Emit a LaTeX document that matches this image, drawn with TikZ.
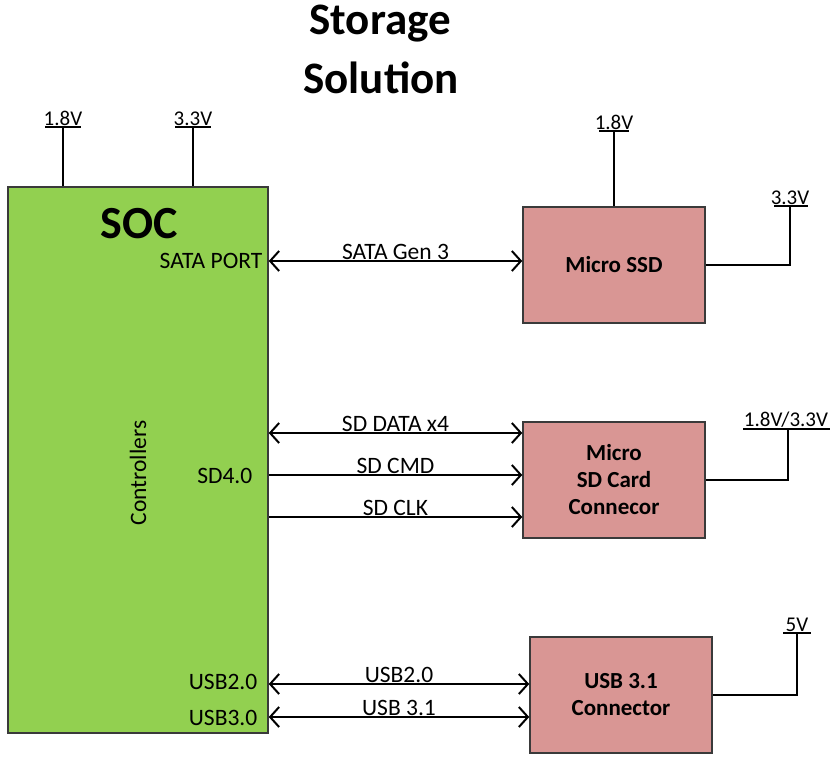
\documentclass[tikz,border=0pt]{standalone}
\usepackage{fontspec}
\setmainfont{Carlito}
\usetikzlibrary{arrows.meta}
\definecolor{socgreen}{HTML}{92D050}
\definecolor{blkpink}{HTML}{D99694}
\definecolor{edge}{HTML}{3A3A3A}
\begin{document}
\begin{tikzpicture}[x=1pt,y=-1pt,
  wire/.style={line width=2pt, draw=black},
  tip/.tip={Straight Barb[length=9pt,width=20pt,line width=2pt]},
  bus/.style={wire, tip-tip},
  sig/.style={wire, -tip},
  lbl/.style={font=\fontsize{23.5}{26}\selectfont, inner sep=1.5pt},
  slbl/.style={lbl, midway, above, inner sep=0.5pt},
  pwr/.style={font=\fontsize{21}{24}\selectfont, inner sep=1.5pt, anchor=south},
  blk/.style={draw=edge, line width=1.5pt, fill=blkpink, align=center,
    font=\bfseries\fontsize{23}{27}\selectfont,
    minimum width=182pt, minimum height=116pt},
  socbox/.style={draw=edge, line width=1.5pt, fill=socgreen,
    minimum width=260pt, minimum height=546pt},
  ttl/.style={font=\bfseries\fontsize{45}{54}\selectfont, anchor=base}
]
\useasboundingbox (0,0) rectangle (839,761);

% title
\node[ttl] (title1) at (380,34) {Storage};
\node[ttl] (title2) at (381,93) {Solution};

% blocks
\node[socbox] (soc) at (138,460) {};
\node[font=\bfseries\fontsize{46}{50}\selectfont] (soclbl) at (139,224) {SOC};
\node[lbl, rotate=90] (ctrl) at (138,473) {Controllers};
\node[lbl, anchor=east] (sata) at (264,261) {SATA PORT};
\node[lbl, anchor=east] (sd40) at (254,476) {SD4.0};
\node[lbl, anchor=east] (usb20) at (259,682) {USB2.0};
\node[lbl, anchor=east] (usb30) at (259,718) {USB3.0};

\node[blk] (ssd) at (614,265) {Micro SSD};
\node[blk] (sd) at (614,480) {Micro\\SD Card\\Connecor};
\node[blk] (usb) at (621,695) {USB 3.1\\Connector};

% power rails
\coordinate (pa) at (63,127);
\coordinate (pb) at (193,127);
\coordinate (pc) at (614,131);
\coordinate (pd) at (790,206);
\coordinate (pe) at (788,429);
\coordinate (pf) at (797,633);

\draw[wire] (soc.north -| pa) -- (pa);
\draw[wire] ([xshift=-18pt]pa) -- ([xshift=18pt]pa);
\node[pwr] (va) at (pa) {1.8V};

\draw[wire] (soc.north -| pb) -- (pb);
\draw[wire] ([xshift=-18pt]pb) -- ([xshift=18pt]pb);
\node[pwr] (vb) at (pb) {3.3V};

\draw[wire] (ssd.north -| pc) -- (pc);
\draw[wire] ([xshift=-15pt]pc) -- ([xshift=15pt]pc);
\node[pwr] (vc) at (pc) {1.8V};

\draw[wire] (ssd.east) -| (pd);
\draw[wire] ([xshift=-16pt]pd) -- ([xshift=18pt]pd);
\node[pwr] (vd) at (pd) {3.3V};

\draw[wire] (sd.east) -| (pe);
\draw[wire] ([xshift=-45pt]pe) -- ([xshift=42pt]pe);
\node[pwr] (ve) at ([xshift=-2pt]pe) {1.8V/3.3V};

\draw[wire] (usb.east) -| (pf);
\draw[wire] ([xshift=-14pt]pf) -- ([xshift=14pt]pf);
\node[pwr] (vf) at (pf) {5V};

% signals
\draw[bus] (soc.east |- 0,261) -- (ssd.west |- 0,261) node[slbl] (l1) {SATA Gen 3};
\draw[bus] (soc.east |- 0,433) -- (sd.west |- 0,433) node[slbl] (l2) {SD DATA x4};
\draw[sig] (soc.east |- 0,475) -- (sd.west |- 0,475) node[slbl] (l3) {SD CMD};
\draw[sig] (soc.east |- 0,517) -- (sd.west |- 0,517) node[slbl] (l4) {SD CLK};
\draw[bus] (soc.east |- 0,684) -- (usb.west |- 0,684) node[slbl] (l5) {USB2.0};
\draw[bus] (soc.east |- 0,717) -- (usb.west |- 0,717) node[slbl] (l6) {USB 3.1};
\end{tikzpicture}
\end{document}
